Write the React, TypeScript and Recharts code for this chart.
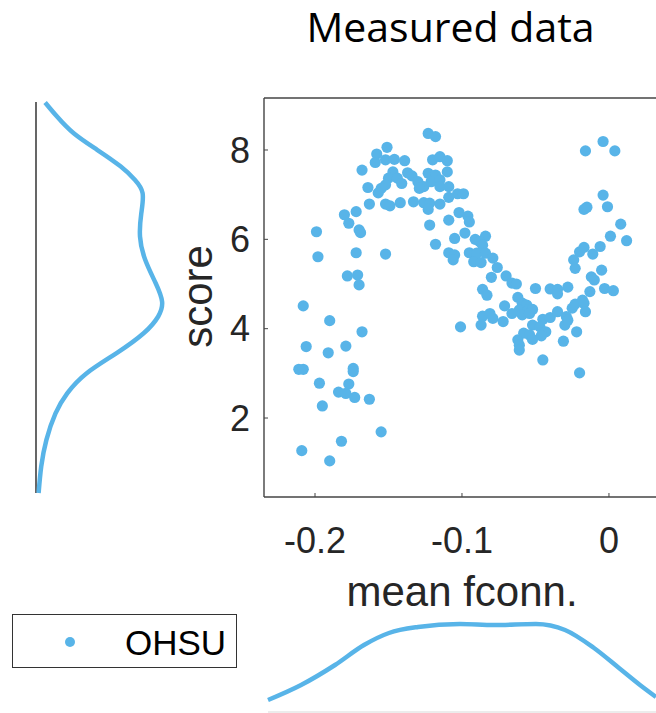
import {
  Line,
  LineChart,
  ReferenceLine,
  Scatter,
  ScatterChart,
  XAxis,
  YAxis,
} from "recharts";

const BLUE = "#58B4E8";
const INK = "#262626";
const SANS = '"Liberation Sans", Arial, Helvetica, sans-serif';

// OHSU scatter, one entry per subject
const meanFconn = [
  -0.123, -0.118, -0.151, -0.158, -0.159, -0.152, -0.146, -0.139, -0.12, -0.115,
  -0.11, -0.168, -0.147, -0.137, -0.134, -0.123, -0.118, -0.11, -0.15, -0.144,
  -0.141, -0.152, -0.155, -0.164, -0.157, -0.13, -0.126, -0.121, -0.115, -0.115,
  -0.109, -0.129, -0.103, -0.109, -0.163, -0.152, -0.149, -0.142, -0.133, -0.126,
  -0.122, -0.115, -0.123, -0.18, -0.172, -0.177, -0.102, -0.122, -0.109, -0.199,
  -0.17, -0.169, -0.105, -0.118, -0.198, -0.172, -0.152, -0.109, -0.105, -0.106,
  -0.178, -0.171, -0.17, -0.099, -0.096, -0.095, -0.098, -0.091, -0.084, -0.088,
  -0.086, -0.095, -0.09, -0.084, -0.079, -0.092, -0.087, -0.076, -0.08, -0.07,
  -0.066, -0.063, -0.05, -0.04, -0.035, -0.028, -0.035, -0.086, -0.083, -0.062,
  -0.018, -0.013, -0.012, -0.01, -0.005, -0.003, 0.003, -0.024, -0.023, -0.02,
  -0.017, -0.011, -0.006, 0.001, 0.008, 0.012, -0.017, -0.015, -0.004, -0.001,
  -0.016, -0.004, 0.004, -0.208, -0.19, -0.168, -0.206, -0.191, -0.179, -0.211,
  -0.208, -0.174, -0.174, -0.197, -0.177, -0.184, -0.179, -0.173, -0.163, -0.195,
  -0.155, -0.182, -0.209, -0.19, -0.101, -0.071, -0.059, -0.056, -0.061, -0.055,
  -0.052, -0.066, -0.059, -0.054, -0.086, -0.081, -0.079, -0.072, -0.087, -0.045,
  -0.04, -0.035, -0.029, -0.025, -0.023, -0.017, -0.016, -0.052, -0.047, -0.043,
  -0.046, -0.058, -0.054, -0.052, -0.03, -0.028, -0.022, -0.062, -0.061, -0.061,
  -0.031, -0.045, -0.02,
];

const score = [
  8.37, 8.3, 8.06, 7.91, 7.72, 7.78, 7.79, 7.76, 7.78, 7.85,
  7.76, 7.55, 7.51, 7.49, 7.42, 7.48, 7.44, 7.51, 7.37, 7.37,
  7.25, 7.22, 7.14, 7.16, 7.04, 7.29, 7.18, 7.29, 7.33, 7.18,
  7.18, 7.14, 7.02, 6.94, 6.79, 6.79, 6.75, 6.82, 6.84, 6.82,
  6.81, 6.79, 6.67, 6.55, 6.62, 6.36, 6.6, 6.32, 6.43, 6.17,
  6.21, 6.15, 6.02, 5.89, 5.61, 5.7, 5.67, 5.7, 5.65, 5.54,
  5.18, 5.2, 4.98, 7.02, 6.52, 6.39, 6.14, 6.0, 6.07, 5.95,
  5.87, 5.7, 5.69, 5.69, 5.58, 5.5, 5.48, 5.37, 5.15, 5.18,
  5.02, 5.0, 4.9, 4.89, 4.88, 4.93, 4.78, 4.88, 4.75, 4.7,
  4.64, 4.83, 5.16, 5.09, 5.31, 4.9, 4.85, 5.54, 5.35, 5.72,
  5.82, 5.67, 5.84, 6.07, 6.34, 5.97, 6.67, 6.72, 6.99, 6.73,
  7.98, 8.19, 7.98, 4.51, 4.18, 3.93, 3.6, 3.46, 3.61, 3.09,
  3.09, 3.11, 3.04, 2.78, 2.76, 2.58, 2.55, 2.46, 2.42, 2.27,
  1.69, 1.48, 1.27, 1.04, 4.04, 4.51, 4.57, 4.53, 4.42, 4.42,
  4.43, 4.34, 4.31, 4.34, 4.28, 4.34, 4.23, 4.16, 4.08, 4.21,
  4.25, 4.38, 4.27, 4.46, 4.55, 4.57, 4.38, 4.08, 4.04, 3.93,
  3.84, 3.9, 3.86, 3.76, 4.08, 4.19, 3.93, 3.75, 3.63, 3.52,
  3.72, 3.3, 3.01,
];

// marginal densities (relative units)
const scoreDensityAt = [
  9.06, 8.75, 8.37, 8.0, 7.63, 7.33, 7.03, 6.58, 6.06, 5.54, 5.02,
  4.6, 4.27, 3.9, 3.45, 3.0, 2.55, 2.1, 1.51, 0.91, 0.32,
];
const scoreDensity = [
  0.07, 0.16, 0.29, 0.47, 0.65, 0.76, 0.82, 0.81, 0.8, 0.84, 0.92,
  0.97, 0.94, 0.83, 0.62, 0.39, 0.24, 0.15, 0.08, 0.04, 0.02,
];

const fconnDensityAt = [
  -0.232, -0.2095, -0.1864, -0.1667, -0.1497, -0.1299, -0.1014,
  -0.0782, -0.0497, -0.0299, -0.0102, 0.0068, 0.0211, 0.032,
];
const fconnDensity = [
  0.12, 0.27, 0.47, 0.67, 0.79, 0.85, 0.88, 0.87, 0.88, 0.82, 0.64, 0.44, 0.27, 0.15,
];

const xTicks = [-0.2, -0.1, 0];
const yTicks = [2, 4, 6, 8];

const points = meanFconn.map((x, i) => ({ x, y: score[i] }));
const scoreCurve = scoreDensityAt.map((y, i) => ({ d: scoreDensity[i], y }));
const fconnCurve = fconnDensityAt.map((x, i) => ({ x, d: fconnDensity[i] }));

const tickStyle = { fontSize: 36, fill: INK, fontFamily: SANS };

function Dot(props: { cx?: number; cy?: number }) {
  return <circle cx={props.cx} cy={props.cy} r={5.6} fill={BLUE} />;
}

export default function App() {
  return (
    <div
      style={{
        position: "absolute",
        left: 0,
        top: 0,
        width: 656,
        height: 713,
        overflow: "hidden",
        background: "#fff",
      }}
    >
      <div style={{ position: "absolute", left: 0, top: 0 }}>
        <ScatterChart
          width={656}
          height={713}
          margin={{ top: 88, right: 0, bottom: 156, left: 200 }}
        >
          <XAxis
            dataKey="x"
            type="number"
            domain={[-0.2347, 0.032]}
            allowDataOverflow
            ticks={xTicks}
            height={60}
            tickSize={-4}
            tickMargin={34}
            tick={tickStyle}
            stroke={INK}
            axisLine={{ stroke: "#444", strokeWidth: 1.4 }}
            tickLine={{ stroke: "#444" }}
          />
          <XAxis
            xAxisId="top"
            orientation="top"
            type="number"
            domain={[-0.2347, 0.032]}
            allowDataOverflow
            ticks={xTicks}
            height={10}
            tickSize={-4}
            tick={false}
            axisLine={{ stroke: "#444", strokeWidth: 1.4 }}
            tickLine={{ stroke: "#444" }}
          />
          <YAxis
            dataKey="y"
            type="number"
            domain={[0.232, 9.164]}
            allowDataOverflow
            ticks={yTicks}
            width={64}
            tickSize={-4}
            tickMargin={18}
            tick={tickStyle}
            axisLine={{ stroke: "#444", strokeWidth: 1.4 }}
            tickLine={{ stroke: "#444" }}
          />
          <Scatter
            name="OHSU"
            data={points}
            fill={BLUE}
            shape={Dot}
            isAnimationActive={false}
          />
        </ScatterChart>
      </div>

      <div style={{ position: "absolute", left: 0, top: 0 }}>
        <ScatterChart
          width={200}
          height={713}
          margin={{ top: 102, right: 34, bottom: 220, left: 36 }}
        >
          <XAxis dataKey="d" type="number" domain={[0, 1]} hide />
          <YAxis dataKey="y" type="number" domain={[0.32, 9.07]} hide />
          <ReferenceLine x={0} stroke={INK} strokeWidth={1.4} />
          <Scatter
            data={scoreCurve}
            fill={BLUE}
            line={{ stroke: BLUE, strokeWidth: 4.5 }}
            lineJointType="natural"
            shape={() => <g />}
            isAnimationActive={false}
          />
        </ScatterChart>
      </div>

      <div style={{ position: "absolute", left: 0, top: 600 }}>
        <LineChart
          width={656}
          height={113}
          data={fconnCurve}
          margin={{ top: 12, right: 0, bottom: 1, left: 268 }}
        >
          <XAxis dataKey="x" type="number" domain={[-0.232, 0.032]} hide />
          <YAxis type="number" domain={[0, 1]} hide />
          <ReferenceLine y={0} stroke="#d9d9d9" strokeWidth={1.2} />
          <Line
            dataKey="d"
            type="monotone"
            stroke={BLUE}
            strokeWidth={4.5}
            dot={false}
            isAnimationActive={false}
          />
        </LineChart>
      </div>

      <svg
        width={656}
        height={713}
        style={{ position: "absolute", left: 0, top: 0, pointerEvents: "none" }}
      >
        <text
          x={450.5}
          y={42}
          textAnchor="middle"
          fontFamily='"Open Sans", sans-serif'
          fontSize={41}
          fill="#000"
        >
          Measured data
        </text>
        <text
          x={462}
          y={606}
          textAnchor="middle"
          fontFamily={SANS}
          fontSize={42}
          fill={INK}
        >
          mean fconn.
        </text>
        <text
          x={212}
          y={296.5}
          transform="rotate(-90 212 296.5)"
          textAnchor="middle"
          fontFamily={SANS}
          fontSize={42}
          fill={INK}
        >
          score
        </text>
        <rect x={12.5} y={614.5} width={224} height={53} fill="#fff" stroke="#333" strokeWidth={1} />
        <circle cx={70} cy={642} r={5} fill={BLUE} />
        <text x={125} y={655} fontFamily={SANS} fontSize={35} fill="#000">
          OHSU
        </text>
      </svg>
    </div>
  );
}
